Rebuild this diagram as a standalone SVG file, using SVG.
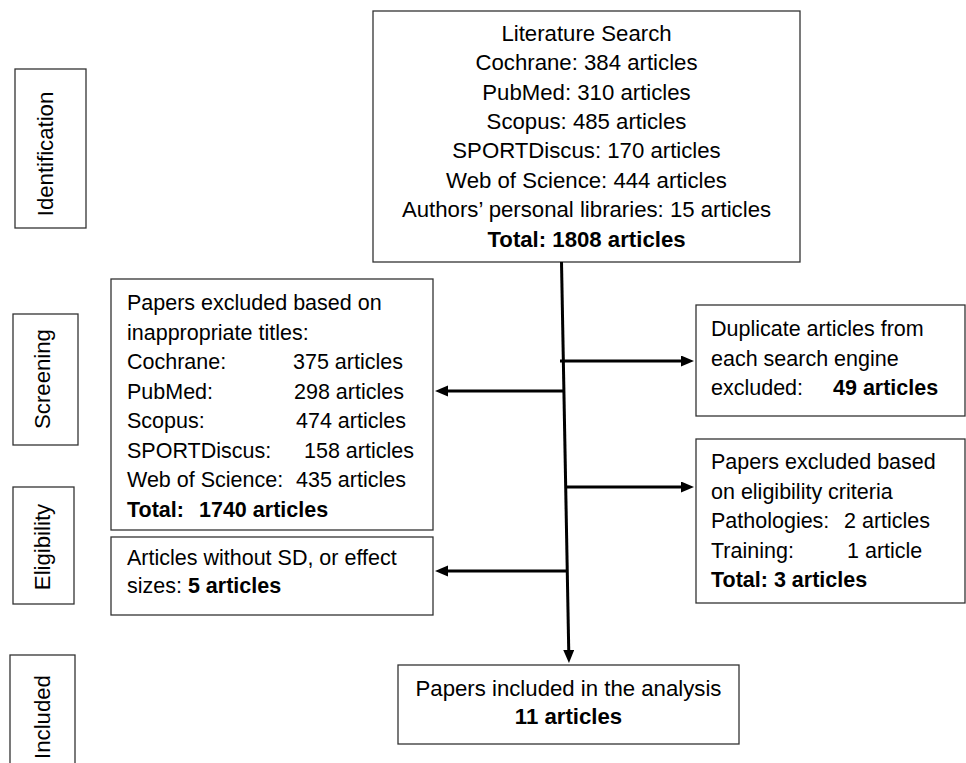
<svg xmlns="http://www.w3.org/2000/svg" width="966" height="763" viewBox="0 0 966 763">
<style>
  .box { fill: #ffffff; stroke: #333333; stroke-width: 1.3; }
  .t { font-family: "Liberation Sans", Arial, sans-serif; font-size: 21.5px; fill: #000000; }
  .lg { font-size: 22.2px; }
  .c { text-anchor: middle; }
  .b { font-weight: bold; }
  .conn { fill: none; stroke: #000000; stroke-width: 3; }
</style>
<defs>
  <marker id="ah" markerUnits="userSpaceOnUse" markerWidth="14" markerHeight="12" refX="1" refY="5.5" orient="auto">
    <path d="M0,0 L13,5.5 L0,11 Z" fill="#000000"/>
  </marker>
</defs>
<rect width="966" height="763" fill="#ffffff"/>

<g id="stage-identification">
  <rect class="box" x="15" y="69" width="71" height="159"/>
  <text class="t c lg" transform="translate(53,154) rotate(-90)">Identification</text>
</g>
<g id="stage-screening">
  <rect class="box" x="13" y="314" width="65" height="131"/>
  <text class="t c lg" transform="translate(50,379) rotate(-90)">Screening</text>
</g>
<g id="stage-eligibility">
  <rect class="box" x="13" y="487" width="61" height="117"/>
  <text class="t c lg" transform="translate(50,547) rotate(-90)">Eligibility</text>
</g>
<g id="stage-included">
  <rect class="box" x="10" y="655" width="65" height="115"/>
  <text class="t c lg" transform="translate(49.5,717) rotate(-90)">Included</text>
</g>

<g id="literature-search">
  <rect class="box" x="373" y="11" width="427" height="251"/>
  <text class="t c lg" x="586.5" y="40.7">Literature Search</text>
  <text class="t c lg" x="586.5" y="70.1">Cochrane: 384 articles</text>
  <text class="t c lg" x="586.5" y="99.6">PubMed: 310 articles</text>
  <text class="t c lg" x="586.5" y="129">Scopus: 485 articles</text>
  <text class="t c lg" x="586.5" y="158.4">SPORTDiscus: 170 articles</text>
  <text class="t c lg" x="586.5" y="187.9">Web of Science: 444 articles</text>
  <text class="t c lg" x="586.5" y="217.3">Authors’ personal libraries: 15 articles</text>
  <text class="t c lg b" x="586.5" y="246.7">Total: 1808 articles</text>
</g>

<g id="excluded-titles">
  <rect class="box" x="111" y="279" width="322" height="251"/>
  <text class="t" x="127" y="310">Papers excluded based on</text>
  <text class="t" x="127" y="340">inappropriate titles:</text>
  <text class="t" y="369"><tspan x="127">Cochrane:</tspan><tspan x="293">375 articles</tspan></text>
  <text class="t" y="398.5"><tspan x="127">PubMed:</tspan><tspan x="294">298 articles</tspan></text>
  <text class="t" y="428"><tspan x="127">Scopus:</tspan><tspan x="296">474 articles</tspan></text>
  <text class="t" y="458"><tspan x="127">SPORTDiscus:</tspan><tspan x="304">158 articles</tspan></text>
  <text class="t" y="487"><tspan x="127">Web of Science:</tspan><tspan x="296">435 articles</tspan></text>
  <text class="t b" y="517"><tspan x="127">Total:</tspan><tspan x="199">1740 articles</tspan></text>
</g>

<g id="no-sd">
  <rect class="box" x="111" y="537" width="322" height="78"/>
  <text class="t" x="127" y="565">Articles without SD, or effect</text>
  <text class="t" x="127" y="593">sizes: <tspan class="b">5 articles</tspan></text>
</g>

<g id="duplicates">
  <rect class="box" x="696" y="305" width="269" height="111"/>
  <text class="t" x="711" y="336">Duplicate articles from</text>
  <text class="t" x="711" y="366">each search engine</text>
  <text class="t" y="395"><tspan x="711">excluded:</tspan><tspan class="b" x="833">49 articles</tspan></text>
</g>

<g id="eligibility-criteria">
  <rect class="box" x="696" y="439" width="269" height="164"/>
  <text class="t" x="711" y="469">Papers excluded based</text>
  <text class="t" x="711" y="499">on eligibility criteria</text>
  <text class="t" y="528"><tspan x="711">Pathologies:</tspan><tspan x="844">2 articles</tspan></text>
  <text class="t" y="558"><tspan x="711">Training:</tspan><tspan x="847">1 article</tspan></text>
  <text class="t b" x="711" y="587">Total: 3 articles</text>
</g>

<g id="included-papers">
  <rect class="box" x="398" y="665" width="341" height="79"/>
  <text class="t c lg" x="568.5" y="696">Papers included in the analysis</text>
  <text class="t c lg b" x="568.5" y="724">11 articles</text>
</g>

<g id="connectors">
  <path class="conn" d="M561.5,262 L568.75,651" marker-end="url(#ah)"/>
  <path class="conn" d="M560,361 H682" marker-end="url(#ah)"/>
  <path class="conn" d="M563.5,391 H447" marker-end="url(#ah)"/>
  <path class="conn" d="M565,487 H682" marker-end="url(#ah)"/>
  <path class="conn" d="M568,571 H447" marker-end="url(#ah)"/>
</g>
</svg>
